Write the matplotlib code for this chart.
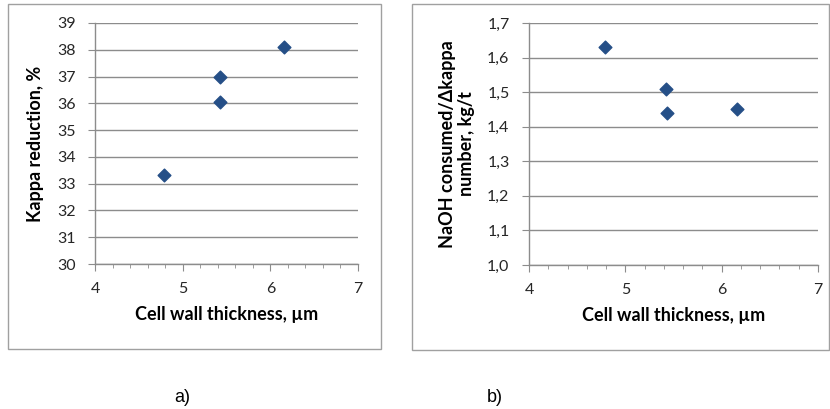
import matplotlib.pyplot as plt
from matplotlib.patches import Rectangle
from matplotlib.ticker import MultipleLocator, FuncFormatter

# data
thick_a = [4.79, 5.43, 5.43, 6.16]
kappa_red = [33.33, 36.97, 36.06, 38.10]

thick_b = [4.79, 5.42, 5.43, 6.16]
naoh_per_kappa = [1.63, 1.51, 1.44, 1.45]

FONT = "Lato"
GRID = "#8c8c8c"
MARK = "#254f87"

plt.rcParams["font.family"] = [FONT, "DejaVu Sans"]

fig = plt.figure(figsize=(8.3, 4.09), dpi=100)
W, H = 830, 409


def px_rect(x0, y0, x1, y1):
    return [x0 / W, 1 - y1 / H, (x1 - x0) / W, (y1 - y0) / H]


# panel frames
for x0, y0, x1, y1 in [(8, 4, 381, 349), (412, 4, 829, 350)]:
    fig.patches.append(Rectangle((x0 / W, 1 - y1 / H), (x1 - x0) / W, (y1 - y0) / H,
                                 transform=fig.transFigure, fill=False,
                                 edgecolor="#a0a0a0", linewidth=1.0))


def style(ax, ymin, ymax, ystep, fmt):
    ax.set_xlim(4, 7)
    ax.set_ylim(ymin, ymax)
    ax.xaxis.set_major_locator(MultipleLocator(1))
    ax.xaxis.set_minor_locator(MultipleLocator(0.2))
    ax.yaxis.set_major_locator(MultipleLocator(ystep))
    ax.yaxis.set_major_formatter(FuncFormatter(fmt))
    ax.grid(axis="y", color=GRID, linewidth=1.0)
    ax.set_axisbelow(True)
    for s in ("top", "right"):
        ax.spines[s].set_visible(False)
    for s in ("left", "bottom"):
        ax.spines[s].set_color(GRID)
        ax.spines[s].set_linewidth(1.0)
    ax.tick_params(axis="both", which="major", direction="out", length=5,
                   color=GRID, labelsize=11.5, labelcolor="#262626")
    ax.tick_params(axis="x", which="minor", direction="out", length=3, color=GRID)
    ax.tick_params(axis="x", pad=8)
    ax.tick_params(axis="y", pad=9)


ax1 = fig.add_axes(px_rect(95, 23, 358, 264))
ax1.scatter(thick_a, kappa_red, marker="D", s=42, color=MARK, zorder=3)
style(ax1, 30, 39, 1, lambda v, p: f"{v:.0f}")
ax1.set_xlabel("Cell wall thickness, µm", fontsize=13, fontweight="bold", labelpad=7)
ax1.set_ylabel("Kappa reduction, %", fontsize=13, fontweight="bold", labelpad=9)

ax2 = fig.add_axes(px_rect(529, 23, 818, 265))
ax2.scatter(thick_b, naoh_per_kappa, marker="D", s=42, color=MARK, zorder=3)
style(ax2, 1.0, 1.7, 0.1, lambda v, p: f"{v:.1f}".replace(".", ","))
ax2.set_xlabel("Cell wall thickness, µm", fontsize=13, fontweight="bold", labelpad=7)
ax2.set_ylabel("NaOH consumed/Δkappa\nnumber, kg/t", fontsize=13, fontweight="bold",
               labelpad=9, linespacing=1.1)

fig.text(182 / W, 1 - 397 / H, "a)", ha="center", va="center", fontsize=13,
         family=["Liberation Sans", "DejaVu Sans"])
fig.text(495 / W, 1 - 397 / H, "b)", ha="center", va="center", fontsize=13,
         family=["Liberation Sans", "DejaVu Sans"])

fig.savefig("out.png", dpi=100)
